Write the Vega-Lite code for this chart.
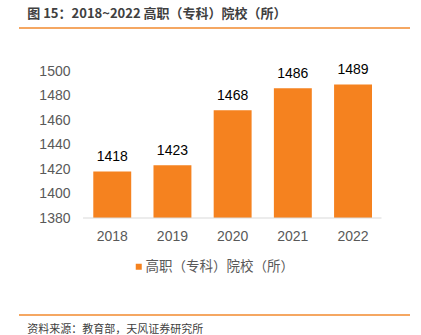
{
  "$schema": "https://vega.github.io/schema/vega-lite/v6.json",
  "padding": {"left": 18, "top": 8, "right": 0, "bottom": 0},
  "background": "white",
  "spacing": 42,
  "bounds": "flush",
  "resolve": {"scale": {"x": "independent", "y": "independent", "color": "independent"}, "legend": {"color": "independent"}},
  "config": {
    "view": {"stroke": null},
    "font": "Liberation Sans"
  },
  "vconcat": [
    {
      "width": 391,
      "height": 1,
      "title": {
        "text": "图 15：2018~2022 高职（专科）院校（所）",
        "anchor": "start",
        "dx": 9,
        "offset": 6,
        "fontSize": 13,
        "fontWeight": "bold",
        "font": "Noto Sans CJK SC",
        "color": "#404040"
      },
      "data": {"values": [{"hl": 1}]},
      "mark": {"type": "rule", "color": "#F28A2E", "strokeWidth": 1.5},
      "encoding": {
        "y": {"field": "hl", "type": "quantitative", "axis": null, "scale": {"domain": [0, 1]}}
      }
    },
    {
      "width": 391,
      "height": 147,
      "data": {
        "values": [
          {"year": "2018", "value": 1418, "series": "高职（专科）院校（所）"},
          {"year": "2019", "value": 1423, "series": "高职（专科）院校（所）"},
          {"year": "2020", "value": 1468, "series": "高职（专科）院校（所）"},
          {"year": "2021", "value": 1486, "series": "高职（专科）院校（所）"},
          {"year": "2022", "value": 1489, "series": "高职（专科）院校（所）"}
        ]
      },
      "encoding": {
        "x": {
          "field": "year",
          "type": "ordinal",
          "title": null,
          "scale": {"type": "band", "paddingInner": 0.37, "paddingOuter": 0.9326, "align": 0.6616},
          "axis": {
            "domain": false,
            "ticks": false,
            "tickSize": 0,
            "labelPadding": 11,
            "labelAngle": 0,
            "labelFontSize": 14,
            "labelColor": "#595959",
            "labelFont": "Liberation Sans"
          }
        },
        "y": {
          "field": "value",
          "type": "quantitative",
          "title": null,
          "scale": {"domain": [1380, 1500], "nice": false, "zero": false},
          "axis": {
            "values": [1380, 1400, 1420, 1440, 1460, 1480, 1500],
            "format": "d",
            "labelOverlap": false,
            "labelBound": false,
            "grid": false,
            "domain": false,
            "ticks": false,
            "tickSize": 0,
            "offset": -63,
            "labelPadding": 12,
            "labelFontSize": 14,
            "labelColor": "#595959",
            "labelFont": "Liberation Sans"
          }
        }
      },
      "layer": [
        {
          "mark": {"type": "bar"},
          "encoding": {
            "y2": {"datum": 1380},
            "color": {
              "field": "series",
              "type": "nominal",
              "scale": {"range": ["#F5821F"]},
              "legend": {
                "orient": "none",
                "legendX": 113,
                "legendY": 189,
                "direction": "horizontal",
                "title": null,
                "symbolType": "square",
                "symbolSize": 36,
                "symbolStrokeWidth": 0,
                "labelFontSize": 13.5,
                "labelFont": "Noto Sans CJK SC",
                "labelColor": "#595959",
                "labelOffset": 0
              }
            }
          }
        },
        {
          "mark": {"type": "text", "baseline": "bottom", "dy": -7, "fontSize": 14, "color": "#000000", "font": "Liberation Sans"},
          "encoding": {
            "text": {"field": "value", "type": "quantitative", "format": "d"}
          }
        },
        {
          "data": {"values": [{"from": "2018", "to": "2022", "base": 1380}]},
          "mark": {"type": "rule", "color": "#D9D9D9", "strokeWidth": 1},
          "encoding": {
            "x": {"field": "from", "type": "ordinal", "bandPosition": -0.27},
            "x2": {"field": "to", "bandPosition": 1.25},
            "y": {"field": "base", "type": "quantitative"}
          }
        }
      ]
    },
    {
      "width": 391,
      "height": 55,
      "title": {
        "text": "资料来源：教育部，天风证券研究所",
        "orient": "bottom",
        "anchor": "start",
        "dx": 9,
        "offset": 8,
        "fontSize": 11,
        "fontWeight": "normal",
        "font": "Noto Sans CJK SC",
        "color": "#404040"
      },
      "data": {"values": [{"fl": 0}]},
      "mark": {"type": "rule", "color": "#F28A2E", "strokeWidth": 1.5},
      "encoding": {
        "y": {"field": "fl", "type": "quantitative", "axis": null, "scale": {"domain": [0, 1]}}
      }
    }
  ]
}
